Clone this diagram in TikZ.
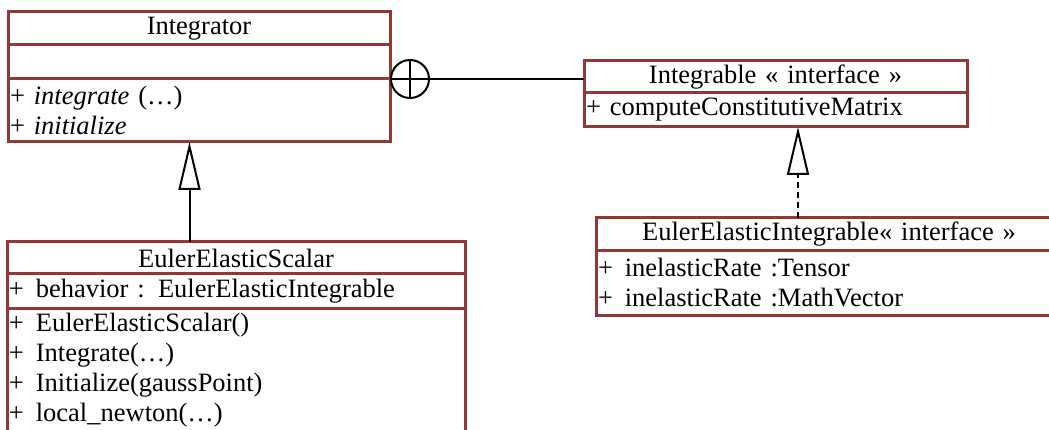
\documentclass[tikz,border=0pt]{standalone}
\usepackage{fontspec}
\setmainfont{LiberationSerif}[Extension=.ttf,UprightFont=*-Regular,ItalicFont=*-Italic,BoldFont=*-Bold,BoldItalicFont=*-BoldItalic]
\usetikzlibrary{arrows.meta, positioning}
\definecolor{umlred}{RGB}{149,55,53}
\newcommand{\pl}{+\hspace{0.45em}}

\begin{document}
\begin{tikzpicture}[x=1pt, y=-1pt, node distance=0pt]
\tikzset{
  cls/.style={rectangle,draw=umlred,line width=3pt,inner xsep=2pt,inner ysep=0pt,outer sep=0pt,font=\fontsize{26.5}{30}\selectfont},
  ttl/.style={cls,align=center},
  mem/.style={cls,align=left},
  gen/.style={-{Triangle[open,length=48pt,width=22pt,line width=2pt]},line width=2pt,draw=black},
  real/.style={gen,dash pattern=on 6pt off 4pt},
  nest/.style={circle,draw=black,line width=2pt,minimum size=38pt,inner sep=0pt}
}
\clip (0,0) rectangle (1049,430);
% ---- Integrator
\node[ttl,text width=378pt,minimum height=33pt,anchor=north west] (intT) at (8,12) {Integrator};
\node[mem,text width=378pt,minimum height=34pt,below=of intT] (intA) {};
\node[mem,text width=378pt,minimum height=63pt,below=of intA] (intM) {+ \textit{integrate} (\ldots)\\+ \textit{initialize}};
% ---- Integrable
\node[ttl,text width=379pt,minimum height=32pt,anchor=north west] (ifT) at (584,61) {Integrable « interface »};
\node[mem,text width=379pt,minimum height=34pt,below=of ifT] (ifM) {+ computeConstitutiveMatrix};
% ---- EulerElasticIntegrable
\node[ttl,text width=462pt,minimum height=33pt,anchor=north west] (eeiT) at (596,218) {EulerElasticIntegrable« interface »};
\node[mem,text width=462pt,minimum height=64pt,below=of eeiT] (eeiA) {\pl inelasticRate :Tensor\\\pl inelasticRate :MathVector};
% ---- EulerElasticScalar
\node[ttl,text width=454pt,minimum height=32pt,anchor=north west] (eesT) at (7,242) {EulerElasticScalar};
\node[mem,text width=454pt,minimum height=34pt,below=of eesT] (eesA) {\pl behavior : EulerElasticIntegrable};
\node[mem,text width=454pt,minimum height=124pt,below=of eesA] (eesM) {\pl EulerElasticScalar()\\\pl Integrate(\ldots)\\\pl Initialize(gaussPoint)\\\pl local\_newton(\ldots)};
% ---- nesting
\node[nest,anchor=west] (nest) at (intM.north east) {};
\draw[line width=2pt] (nest.north)--(nest.south) (nest.west)--(nest.east);
\draw[line width=2pt] (nest.east) -- (nest.east -| ifT.west);
% ---- generalization / realization
\coordinate (genTop) at ([xshift=-9.5pt]intM.south);
\draw[gen] (eesT.north -| genTop) -- (genTop);
\coordinate (realTop) at ([xshift=22.5pt]ifM.south);
\draw[real] (eeiT.north -| realTop) -- (realTop);
\end{tikzpicture}
\end{document}
